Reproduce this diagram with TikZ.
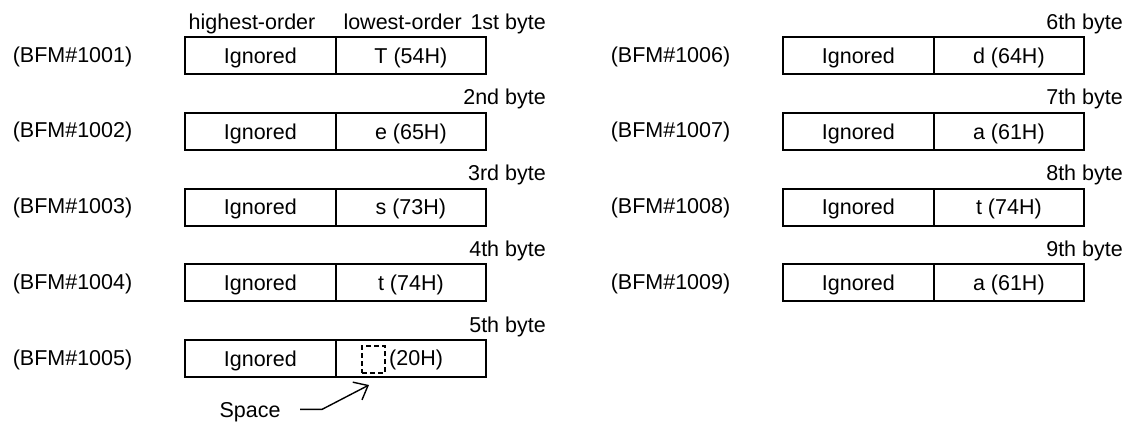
\documentclass[tikz,border=0pt]{standalone}
\usepackage{fontspec}
\setmainfont{Liberation Sans}
\usetikzlibrary{arrows.meta}
\begin{document}
\begin{tikzpicture}[x=1pt,y=-1pt,
  every node/.style={font=\fontsize{21.5}{24}\selectfont, inner sep=0pt},
  cell/.style={draw, line width=2.2pt, minimum width=150.5pt, minimum height=37pt,
    text height=15.4pt, text depth=0pt, anchor=north west},
  lab/.style={text height=15.4pt, text depth=0pt, anchor=center},
  bytelab/.style={anchor=base east},
  arr/.style={line width=1.4pt, -{Straight Barb[length=12pt,width=20pt,line width=1.4pt]}}
]
\useasboundingbox (0,0) rectangle (1125,421);
% header
\node[anchor=base] (hi) at (252,29) {highest-order};
\node[anchor=base east] (lo) at (462,29) {lowest-order};
% left column
\foreach \i/\ch/\ord in {1/{T (54H)}/1st, 2/{e (65H)}/2nd, 3/{s (73H)}/3rd, 4/{t (74H)}/4th, 5/{}/5th} {
  \pgfmathsetmacro\tp{36+(\i-1)*75.75}
  \node[lab] (L\i) at (72.5,\tp+18.5) {(BFM\#100\i)};
  \node[cell] (H\i) at (184,\tp) {Ignored};
  \node[cell] (V\i) at (334.5,\tp) {\ch};
  \node[bytelab] (B\i) at (546,\tp-7) {\ord\ byte};
}
% right column
\foreach \i/\ch/\ord in {6/{d (64H)}/6th, 7/{a (61H)}/7th, 8/{t (74H)}/8th, 9/{a (61H)}/9th} {
  \pgfmathsetmacro\tp{36+(\i-6)*75.75}
  \node[lab] (L\i) at (670.5,\tp+18.5) {(BFM\#100\i)};
  \node[cell] (H\i) at (782,\tp) {Ignored};
  \node[cell] (V\i) at (932.5,\tp) {\ch};
  \node[bytelab] (B\i) at (1123,\tp-7) {\ord\ byte};
}
% space symbol
\node[draw, dash pattern=on 5pt off 3pt, line width=2pt, minimum width=23pt, minimum height=27pt, anchor=north west] (sq) at (361,345) {};
\node[anchor=base west] (h20) at (389,365.2) {(20H)};
% Space label and arrow
\node[anchor=base, text height=15.4pt, text depth=0pt] (space) at (250,417) {Space};
\draw[arr] ([xshift=19.5pt]space.east) -- ++(22,0) -- ([xshift=8pt,yshift=-11pt]sq.south west);
\end{tikzpicture}
\end{document}
